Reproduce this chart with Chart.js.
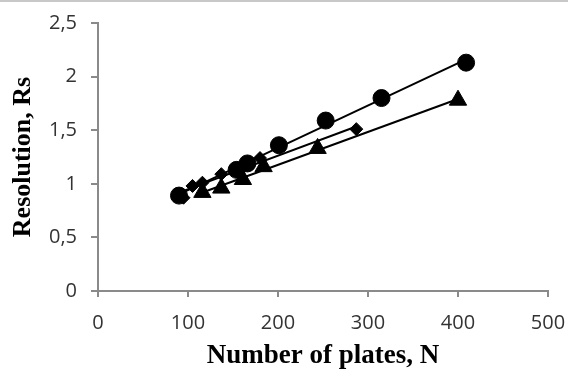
<!DOCTYPE html>
<html>
<head>
<meta charset="utf-8">
<script src="https://cdn.jsdelivr.net/npm/chart.js@4/dist/chart.umd.min.js"></script>
<style>
  body { margin: 0; background: #fff; }
  #wrap { position: relative; width: 568px; height: 372px; }
  #topline { position: absolute; left: 0; top: 0; width: 568px; height: 2px; background: #c8c8c8; }
</style>
</head>
<body>
<div id="wrap">
  <canvas id="rsChart" width="568" height="372"></canvas>
  <div id="topline"></div>
</div>
<script>
// Values (N, Rs)
var circleN  = [90, 154, 166, 201, 253, 315, 409];
var circleRs = [0.89, 1.13, 1.19, 1.36, 1.59, 1.80, 2.13];

var diamondN  = [95, 105, 116, 137, 180, 287];
var diamondRs = [0.87, 0.98, 1.01, 1.09, 1.24, 1.51];

var triangleN  = [116, 137, 161, 184, 244, 400];
var triangleRs = [0.92, 0.96, 1.04, 1.16, 1.33, 1.78];

var xTicks = [0, 100, 200, 300, 400, 500];
var yTicks = [0, 0.5, 1, 1.5, 2, 2.5];

function toPoints(xs, ys) {
    return xs.map(function(x, i) { return { x: x, y: ys[i] }; });
}

// linear trend line through a series, from its first to last N
function trend(xs, ys) {
    var n = xs.length, sx = 0, sy = 0, sxx = 0, sxy = 0;
    for (var i = 0; i < n; i++) {
        sx += xs[i]; sy += ys[i]; sxx += xs[i] * xs[i]; sxy += xs[i] * ys[i];
    }
    var b = (n * sxy - sx * sy) / (n * sxx - sx * sx);
    var a = (sy - b * sx) / n;
    var lo = Math.min.apply(null, xs), hi = Math.max.apply(null, xs);
    return [{ x: lo, y: a + b * lo }, { x: hi, y: a + b * hi }];
}

function markers(xs, ys, style, r) {
    return {
        type: 'scatter',
        data: toPoints(xs, ys),
        pointStyle: style,
        pointRadius: r,
        pointBackgroundColor: '#000',
        pointBorderColor: '#000',
        pointBorderWidth: 1,
        showLine: false,
        order: 1
    };
}

function trendLine(xs, ys) {
    return {
        type: 'line',
        data: trend(xs, ys),
        borderColor: '#000',
        borderWidth: 2,
        pointRadius: 0,
        fill: false,
        order: 2
    };
}

var axisGray = '#8a8a8a';
var tickFont = { family: 'Open Sans', size: 20 };
var titleFont = { family: "'Liberation Serif', 'Times New Roman', serif", size: 26, weight: 'bold' };

new Chart(document.getElementById('rsChart').getContext('2d'), {
    data: {
        datasets: [
            markers(circleN, circleRs, 'circle', 8.5),
            markers(diamondN, diamondRs, 'rectRot', 6.5),
            markers(triangleN, triangleRs, 'triangle', 10),
            trendLine(circleN, circleRs),
            trendLine(diamondN, diamondRs),
            trendLine(triangleN, triangleRs)
        ]
    },
    options: {
        responsive: false,
        animation: false,
        layout: { padding: { top: 23, right: 20, left: 0, bottom: 0 } },
        plugins: {
            legend: { display: false },
            tooltip: { enabled: false }
        },
        scales: {
            x: {
                type: 'linear',
                min: xTicks[0],
                max: xTicks[xTicks.length - 1],
                afterBuildTicks: function(scale) {
                    scale.ticks = xTicks.map(function(v) { return { value: v }; });
                },
                afterFit: function(scale) {
                    scale.height = 81;
                    scale.paddingLeft = 0;
                    scale.paddingRight = 0;
                },
                grid: { drawOnChartArea: false, drawTicks: true, tickLength: 6, color: axisGray, lineWidth: 2 },
                border: { display: true, color: axisGray, width: 2 },
                ticks: { color: '#333', font: tickFont, padding: 14 },
                title: {
                    display: true,
                    text: 'Number of plates, N',
                    color: '#000',
                    font: { family: titleFont.family, size: 27, weight: 'bold' },
                    padding: { top: 0, bottom: 0 }
                }
            },
            y: {
                type: 'linear',
                min: yTicks[0],
                max: yTicks[yTicks.length - 1],
                afterBuildTicks: function(scale) {
                    scale.ticks = yTicks.map(function(v) { return { value: v }; });
                },
                afterFit: function(scale) {
                    scale.width = 98;
                    scale.paddingTop = 0;
                    scale.paddingBottom = 0;
                },
                grid: { drawOnChartArea: false, drawTicks: true, tickLength: 7, color: axisGray, lineWidth: 2 },
                border: { display: true, color: axisGray, width: 2 },
                ticks: {
                    color: '#333',
                    font: tickFont,
                    padding: 14,
                    callback: function(v) { return String(v).replace('.', ','); }
                },
                title: {
                    display: true,
                    text: 'Resolution, Rs',
                    color: '#000',
                    font: titleFont,
                    padding: { top: 8, bottom: 0 }
                }
            }
        }
    }
});
</script>
</body>
</html>
